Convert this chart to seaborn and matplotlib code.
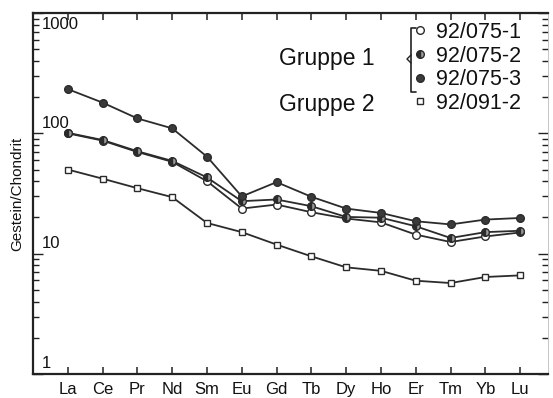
import numpy as np
import pandas as pd
import matplotlib
matplotlib.use("Agg")
import matplotlib.pyplot as plt
from matplotlib.lines import Line2D
from matplotlib.ticker import LogLocator, NullFormatter, FixedLocator
import seaborn as sns

sns.set_theme(style="white")
plt.rcParams['font.family'] = ['Liberation Sans', 'DejaVu Sans']

elements = ["La", "Ce", "Pr", "Nd", "Sm", "Eu", "Gd", "Tb", "Dy", "Ho", "Er", "Tm", "Yb", "Lu"]
s_075_1 = [100, 87, 70, 58, 40, 23.7, 25.6, 22.1, 19.6, 18.2, 14.4, 12.5, 13.9, 15.0]
s_075_2 = [101, 88, 71, 59, 43, 27.3, 28.2, 24.8, 20.2, 19.9, 16.9, 13.5, 15.1, 15.5]
s_075_3 = [233, 180, 133, 110, 64, 29.9, 39.3, 29.7, 23.7, 21.8, 18.6, 17.5, 19.2, 19.8]
s_091_2 = [50, 42, 35, 29.5, 18, 15.1, 11.9, 9.5, 7.7, 7.2, 5.96, 5.7, 6.4, 6.6]
series_names = ["92/075-1", "92/075-2", "92/075-3", "92/091-2"]
group_labels = ["Gruppe 1", "Gruppe 2"]
y_ticks = [1, 10, 100, 1000]
y_label = "Gestein/Chondrit"

series_values = [s_075_1, s_075_2, s_075_3, s_091_2]
pos = np.arange(len(elements))

line_col = "#2b2b2b"
styles = [
    dict(marker="o", markerfacecolor="white", markeredgecolor=line_col),
    dict(marker="o", markerfacecolor=line_col, markeredgecolor=line_col,
         fillstyle="left", markerfacecoloralt="#9a9a9a"),
    dict(marker="o", markerfacecolor="#3a3a3a", markeredgecolor=line_col),
    dict(marker="s", markerfacecolor="white", markeredgecolor=line_col),
]

fig = plt.figure(figsize=(5.53, 3.98), dpi=100)
ax = fig.add_axes([33/553, 1 - 374/398, (548 - 33)/553, (374 - 13)/398])

for name, vals, st in zip(series_names, series_values, styles):
    df = pd.DataFrame({"pos": pos, "val": vals})
    ms = 5.0 if st["marker"] == "s" else 5.5
    sns.lineplot(data=df, x="pos", y="val", ax=ax, color=line_col, linewidth=1.3,
                 markersize=ms, markeredgewidth=1.0, sort=False, legend=False, **st)

ax.set_yscale("log")
ax.set_ylim(1, 1000)
ax.set_xlim(-1.0, 13.8)
ax.set_xticks(pos)
ax.set_xticklabels(elements, fontsize=12, color="#111111")
ax.set_xlabel("")
ax.set_ylabel(y_label, fontsize=11, color="#111111", labelpad=3)
ax.yaxis.set_major_locator(FixedLocator(y_ticks))
ax.yaxis.set_minor_locator(LogLocator(base=10, subs=np.arange(2, 10)))
ax.yaxis.set_major_formatter(NullFormatter())
ax.yaxis.set_minor_formatter(NullFormatter())
ax.tick_params(axis="x", direction="in", top=True, bottom=True, length=5, width=1.1,
               color="#222222", pad=6)
ax.tick_params(axis="y", which="both", direction="in", left=True, right=True,
               width=1.0, color="#222222")
ax.tick_params(axis="y", which="major", length=7)
ax.tick_params(axis="y", which="minor", length=4)

for sp in ["left", "bottom", "top"]:
    ax.spines[sp].set_color("#222222")
    ax.spines[sp].set_linewidth(1.6)
ax.spines["right"].set_color("#bbbbbb")
ax.spines["right"].set_linewidth(0.6)

# y tick labels drawn inside the axes
for v in y_ticks:
    va = "top" if v == y_ticks[-1] else "bottom"
    off = -3 if v == y_ticks[-1] else 2
    ax.annotate(str(v), xy=(0, v), xycoords=("axes fraction", "data"),
                xytext=(6, off), textcoords="offset points", ha="left", va=va,
                fontsize=12, color="#111111")

# legend
handles = [Line2D([], [], linestyle="none",
                  markersize=5.0 if st["marker"] == "s" else 5.5,
                  markeredgewidth=1.0, **st)
           for st in styles]
leg = ax.legend(handles, series_names, loc="upper left",
                bbox_to_anchor=(414/553, 1 - 22/398), bbox_transform=fig.transFigure,
                frameon=False, fontsize=15.5, handlelength=0.6, handletextpad=0.4,
                labelspacing=0.12, borderpad=0, borderaxespad=0)
for t in leg.get_texts():
    t.set_color("#111111")

fig.text(327/553, 1 - 58/398, group_labels[0], fontsize=16.5, ha="center", va="center",
         color="#111111")
fig.text(327/553, 1 - 104/398, group_labels[1], fontsize=16.5, ha="center", va="center",
         color="#111111")

# bracket for group 1
bx = 411/553
y_top, y_bot, y_mid = 1 - 28/398, 1 - 92/398, 1 - 59/398
fig.add_artist(Line2D([bx + 5/553, bx, bx, bx + 5/553], [y_top, y_top, y_bot, y_bot],
                      transform=fig.transFigure, color="#222222", linewidth=1.2))
fig.add_artist(Line2D([bx, bx - 4/553, bx], [y_mid + 4/398, y_mid, y_mid - 4/398],
                      transform=fig.transFigure, color="#222222", linewidth=1.0))

fig.savefig("out.png", dpi=100)
